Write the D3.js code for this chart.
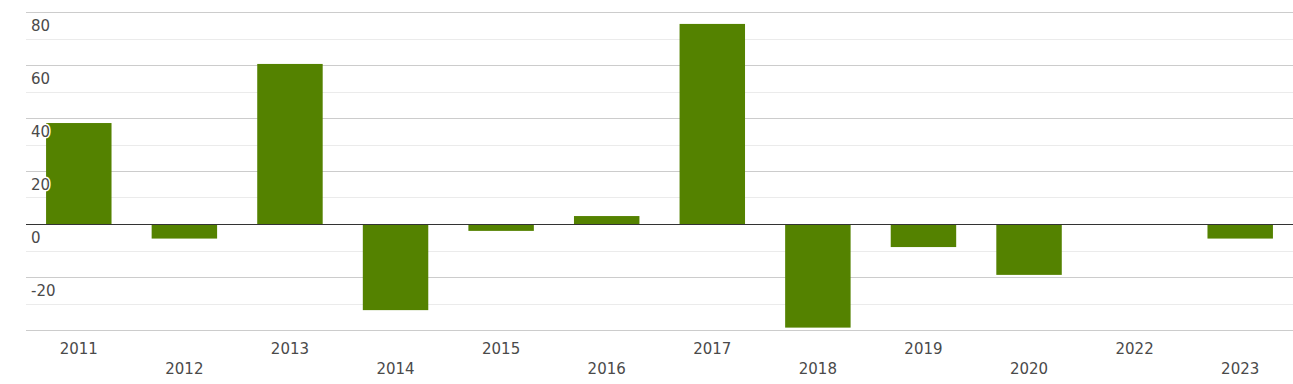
<!DOCTYPE html>
<html lang="en">
<head>
<meta charset="UTF-8">
<title>Chart</title>
<style>
    body { margin: 0; background: #fff; font-family: "DejaVu Sans", sans-serif; }
    #chart { width: 1293px; height: 384px; }
    .ylab { fill: #4a4a4a; font-size: 15px; paint-order: stroke; stroke: #fff; stroke-width: 3px; stroke-linejoin: round; }
    .xlab { fill: #4a4a4a; font-size: 15px; }
</style>
</head>
<body>
<div id="chart"></div>
<script src="https://d3js.org/d3.v7.min.js"></script>
<script>
// data
let years = ["2011","2012","2013","2014","2015","2016","2017","2018","2019","2020","2022","2023"]
let values = [38.1, -5.5, 60.4, -32.5, -2.6, 3.0, 75.5, -39.1, -8.7, -19.2, 0, -5.5]
let yTicks = [-20, 0, 20, 40, 60, 80]

let W = 1293, H = 384
let margin = {top: 12, right: 0, bottom: 54, left: 26}

let svg = d3.select("#chart").append("svg")
    .attr("width", W)
    .attr("height", H)

let x = d3.scaleBand()
    .domain(years)
    .range([margin.left, W - margin.right])
    .paddingInner(0.38)
    .paddingOuter(0.19)

let y = d3.scaleLinear()
    .domain([-40, 80])
    .range([H - margin.bottom, margin.top])

// minor grid, halfway between the labelled lines
svg.append("g")
    .selectAll("line")
    .data(d3.range(-30, 80, 20))
    .join("line")
    .attr("x1", margin.left).attr("x2", W)
    .attr("y1", d => Math.round(y(d)) + 0.5).attr("y2", d => Math.round(y(d)) + 0.5)
    .attr("stroke", "#ebebeb")

// major grid
svg.append("g")
    .selectAll("line")
    .data(d3.range(-40, 81, 20).filter(d => d != 0))
    .join("line")
    .attr("x1", margin.left).attr("x2", W)
    .attr("y1", d => Math.round(y(d)) + 0.5).attr("y2", d => Math.round(y(d)) + 0.5)
    .attr("stroke", "#cccccc")

// bars
svg.append("g")
    .selectAll("rect")
    .data(years)
    .join("rect")
    .attr("x", d => x(d))
    .attr("width", x.bandwidth())
    .attr("y", (d, i) => y(Math.max(0, values[i])))
    .attr("height", (d, i) => Math.abs(y(values[i]) - y(0)))
    .attr("fill", "#548200")

// zero line
svg.append("line")
    .attr("x1", margin.left).attr("x2", W)
    .attr("y1", Math.round(y(0)) + 0.5).attr("y2", Math.round(y(0)) + 0.5)
    .attr("stroke", "#333")

// y labels, inside plot under each gridline
svg.append("g")
    .selectAll("text")
    .data(yTicks)
    .join("text")
    .attr("class", "ylab")
    .attr("x", 31)
    .attr("y", d => y(d) + 18.5)
    .text(d => d)

// x labels, alternating rows
svg.append("g")
    .selectAll("text")
    .data(years)
    .join("text")
    .attr("class", "xlab")
    .attr("text-anchor", "middle")
    .attr("x", d => x(d) + x.bandwidth() / 2)
    .attr("y", (d, i) => i % 2 == 0 ? 353.5 : 373.5)
    .text(d => d)
</script>
</body>
</html>
